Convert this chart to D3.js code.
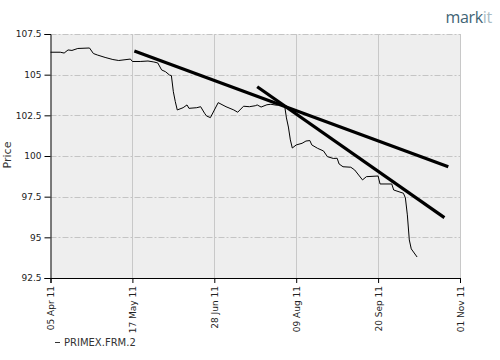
<!DOCTYPE html>
<html>
<head>
<meta charset="utf-8">
<script src="https://cdn.jsdelivr.net/npm/d3@7"></script>
<style>
  html, body { margin: 0; padding: 0; background: #ffffff; }
  svg { display: block; }
</style>
</head>
<body>
<svg id="chart" width="500" height="360"></svg>
<script>
// ---- data ----
const dates = ["2011-04-05","2011-04-10","2011-04-12","2011-04-14","2011-04-16","2011-04-19","2011-04-25","2011-04-27","2011-04-29","2011-05-03",
  "2011-05-07","2011-05-10","2011-05-16","2011-05-17","2011-05-21","2011-05-25","2011-05-28","2011-05-30","2011-06-01","2011-06-03",
  "2011-06-05","2011-06-06","2011-06-07","2011-06-08","2011-06-09","2011-06-12","2011-06-14","2011-06-15","2011-06-19","2011-06-21",
  "2011-06-23","2011-06-24","2011-06-26","2011-06-30","2011-07-04","2011-07-08","2011-07-10","2011-07-13","2011-07-16","2011-07-19",
  "2011-07-20","2011-07-22","2011-07-25","2011-07-27","2011-07-30","2011-08-01","2011-08-03","2011-08-04","2011-08-05","2011-08-06",
  "2011-08-07","2011-08-09","2011-08-12","2011-08-14","2011-08-16","2011-08-17","2011-08-20","2011-08-23","2011-08-25","2011-08-28",
  "2011-08-30","2011-08-31","2011-09-02","2011-09-06","2011-09-08","2011-09-12","2011-09-14","2011-09-20","2011-09-21","2011-09-27",
  "2011-09-28","2011-10-03","2011-10-04","2011-10-05","2011-10-06","2011-10-07","2011-10-10"];
const prices = [106.38,106.38,106.33,106.52,106.49,106.61,106.64,106.30,106.21,106.06,
  105.93,105.87,105.96,105.81,105.81,105.84,105.78,105.72,105.29,105.18,
  104.98,104.94,103.95,103.34,102.83,102.97,103.14,102.93,102.97,103.03,
  102.63,102.46,102.36,103.28,103.03,102.83,102.69,103.06,103.03,103.09,
  103.14,103.01,103.15,103.18,103.12,103.18,103.14,102.34,101.78,100.99,
  100.49,100.68,100.78,100.92,100.95,100.68,100.47,100.31,99.96,99.85,
  99.86,99.51,99.34,99.31,99.14,98.53,98.73,98.77,98.28,98.28,
  97.91,97.71,97.42,96.38,94.84,94.29,93.79];
// drawn trend lines: [start date, end date] and [start price, end price]
const trendDates = [["2011-05-18","2011-10-26"],["2011-07-20","2011-10-24"]];
const trendPrices = [[106.46,99.34],[104.26,96.21]];
const yTicks = [92.5,95,97.5,100,102.5,105,107.5];
const xTickDates = ["2011-04-05","2011-05-17","2011-06-28","2011-08-09","2011-09-20","2011-11-01"];
const xTickLabels = ["05 Apr 11","17 May 11","28 Jun 11","09 Aug 11","20 Sep 11","01 Nov 11"];
const seriesName = "PRIMEX.FRM.2";
const yTitle = "Price";

// ---- layout ----
const parse = d3.timeParse("%Y-%m-%d");
const svg = d3.select("#chart");
const pLeft = 50.5, pRight = 460, pTop = 34, pBottom = 278;

const x = d3.scaleTime()
  .domain([parse(xTickDates[0]), parse(xTickDates[xTickDates.length-1])])
  .range([pLeft, pRight]);
const y = d3.scaleLinear().domain([92.5, 107.5]).range([pBottom, pTop]);

// plot background
svg.append("rect").attr("x", pLeft).attr("y", pTop)
  .attr("width", pRight - pLeft).attr("height", pBottom - pTop)
  .attr("fill", "#eeeeee");

// horizontal grid (dash-dot)
svg.append("g").selectAll("line").data(yTicks).join("line")
  .attr("x1", pLeft).attr("x2", pRight)
  .attr("y1", d => Math.round(y(d)) + 0.5).attr("y2", d => Math.round(y(d)) + 0.5)
  .attr("stroke", "#c4c4c4").attr("stroke-width", 1)
  .attr("stroke-dasharray", "6,2,2,2");

// vertical grid
svg.append("g").selectAll("line").data(xTickDates.slice(1)).join("line")
  .attr("x1", d => Math.round(x(parse(d))) + 0.5).attr("x2", d => Math.round(x(parse(d))) + 0.5)
  .attr("y1", pTop).attr("y2", pBottom)
  .attr("stroke", "#c8c8c8").attr("stroke-width", 1);

// axes
const yAxis = d3.axisLeft(y).tickValues(yTicks).tickSize(6).tickPadding(3)
  .tickFormat(d => String(d));
const gy = svg.append("g").attr("transform", `translate(${pLeft},0)`).call(yAxis);
gy.select(".domain").attr("stroke", "#000");
gy.selectAll(".tick line").attr("stroke", "#000");
gy.selectAll("text").attr("font-family", "DejaVu Sans, sans-serif").attr("font-size", 9).attr("fill", "#222");

const xAxis = d3.axisBottom(x).tickValues(xTickDates.map(parse)).tickSize(5)
  .tickFormat((d, i) => xTickLabels[i]);
const gx = svg.append("g").attr("transform", `translate(0,${pBottom})`).call(xAxis);
gx.select(".domain").attr("stroke", "#000");
gx.selectAll(".tick line").attr("stroke", "#000");
gx.selectAll("text")
  .attr("font-family", "DejaVu Sans, sans-serif").attr("font-size", 9).attr("fill", "#222")
  .attr("text-anchor", "end").attr("dy", "0.35em")
  .attr("transform", "translate(0,8) rotate(-90)")
  .attr("x", 0).attr("y", 0);

// y title
svg.append("text").attr("transform", "translate(11,155) rotate(-90)")
  .attr("text-anchor", "middle")
  .attr("font-family", "DejaVu Sans, sans-serif").attr("font-size", 11).attr("fill", "#333")
  .text(yTitle);

// price line
const data = dates.map((d, i) => ({ date: parse(d), value: prices[i] }));
svg.append("path").datum(data)
  .attr("fill", "none").attr("stroke", "#000").attr("stroke-width", 1)
  .attr("d", d3.line().x(d => x(d.date)).y(d => y(d.value)));

// trend lines
svg.append("g").selectAll("line").data(trendDates.map((td, i) => ({ d: td, p: trendPrices[i] }))).join("line")
  .attr("x1", t => x(parse(t.d[0]))).attr("y1", t => y(t.p[0]))
  .attr("x2", t => x(parse(t.d[1]))).attr("y2", t => y(t.p[1]))
  .attr("stroke", "#000").attr("stroke-width", 3.2).attr("stroke-linecap", "butt");

// legend
svg.append("line").attr("x1", 55).attr("x2", 60).attr("y1", 342.5).attr("y2", 342.5)
  .attr("stroke", "#333").attr("stroke-width", 1);
svg.append("text").attr("x", 64).attr("y", 346)
  .attr("font-family", "DejaVu Sans, sans-serif").attr("font-size", 10).attr("fill", "#333")
  .text(seriesName);

// logo
const logo = svg.append("text").attr("x", 492).attr("y", 23).attr("text-anchor", "end")
  .attr("font-family", "Open Sans, sans-serif").attr("font-size", 16).attr("letter-spacing", "-0.3");
logo.append("tspan").attr("fill", "#3f6475").text("mark");
logo.append("tspan").attr("fill", "#a9bcc4").text("it");
</script>
</body>
</html>
